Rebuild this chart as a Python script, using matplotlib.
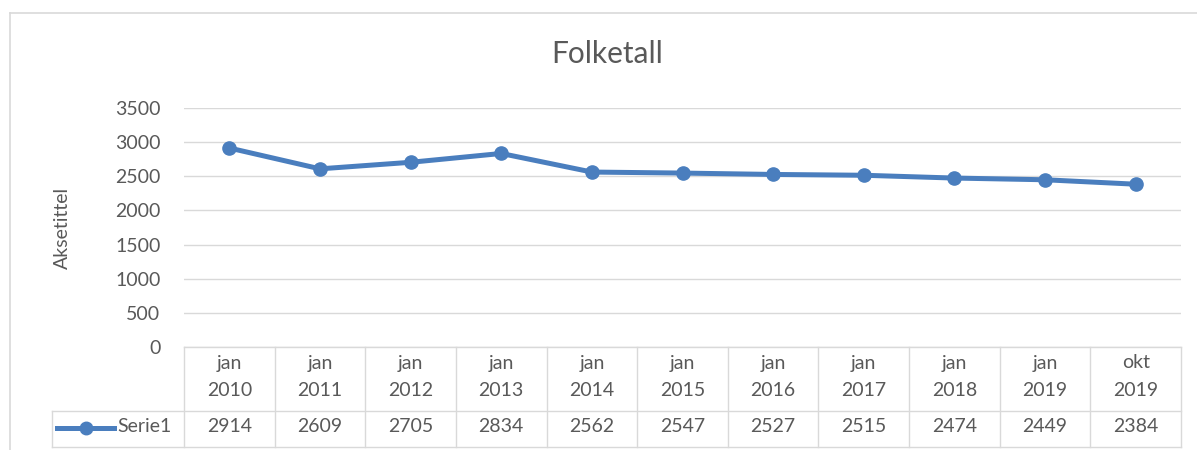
import matplotlib
matplotlib.use("Agg")
import matplotlib.pyplot as plt
from matplotlib.lines import Line2D

# data
months = ["jan", "jan", "jan", "jan", "jan", "jan", "jan", "jan", "jan", "jan", "okt"]
years = ["2010", "2011", "2012", "2013", "2014", "2015", "2016", "2017", "2018", "2019", "2019"]
folketall = [2914, 2609, 2705, 2834, 2562, 2547, 2527, 2515, 2474, 2449, 2384]
y_ticks = [0, 500, 1000, 1500, 2000, 2500, 3000, 3500]
series_name = "Serie1"

W, H = 1197, 450
TEXT = "#595959"
GRID = "#D9D9D9"
BLUE = "#4A7EBE"

plt.rcParams['font.family'] = ['Lato', 'DejaVu Sans']

fig = plt.figure(figsize=(W / 100, H / 100), dpi=100)

# plot area in pixel positions
left, right, top, bottom = 184, 1181, 108, 347
tab_bottom = 447
col_w = (right - left) / len(folketall)

ax = fig.add_axes([left / W, 1 - bottom / H, (right - left) / W, (bottom - top) / H])
x = list(range(len(folketall)))
ax.plot(x, folketall, color=BLUE, lw=3.6, marker="o", ms=9.5, solid_capstyle="round", zorder=3)
ax.set_xlim(-0.5, len(folketall) - 0.5)
ax.set_ylim(0, 3500)
ax.set_yticks(y_ticks)
ax.set_xticks([])
ax.grid(axis="y", color=GRID, lw=1)
ax.set_axisbelow(True)
for s in ax.spines.values():
    s.set_visible(False)
ax.tick_params(axis="y", length=0, pad=17, labelsize=14, labelcolor=TEXT)

# data table below the plot
tab = fig.add_axes([left / W, 1 - tab_bottom / H, (right - left) / W, (tab_bottom - bottom) / H])
tab.set_xlim(-0.5, len(folketall) - 0.5)
tab.set_ylim(tab_bottom - bottom, 0)
tab.axis("off")


def px(xp):
    # figure pixel x -> table data x
    return -0.5 + (xp - left) / col_w


row_div = 411 - bottom
row_end = tab_bottom - bottom
cell_left = px(52)
for i in range(len(folketall) + 1):
    tab.plot([i - 0.5, i - 0.5], [0, row_end], color=GRID, lw=1, clip_on=False)
tab.plot([-0.5, len(folketall) - 0.5], [0, 0], color=GRID, lw=1, clip_on=False)
tab.plot([cell_left, len(folketall) - 0.5], [row_div, row_div], color=GRID, lw=1, clip_on=False)
tab.plot([cell_left, len(folketall) - 0.5], [row_end, row_end], color=GRID, lw=1, clip_on=False)
tab.plot([cell_left, cell_left], [row_div, row_end], color=GRID, lw=1, clip_on=False)

for i, (m, yr, v) in enumerate(zip(months, years, folketall)):
    tab.text(i, 363 - bottom, m, ha="center", va="center", fontsize=14, color=TEXT)
    tab.text(i, 390 - bottom, yr, ha="center", va="center", fontsize=14, color=TEXT)
    tab.text(i, 427 - bottom, str(v), ha="center", va="center", fontsize=14, color=TEXT)

# legend key inside the table
key_y = 428 - bottom
tab.plot([px(57), px(114)], [key_y, key_y], color=BLUE, lw=3.6, clip_on=False)
tab.plot([px(86)], [key_y], color=BLUE, marker="o", ms=9, clip_on=False)
tab.text(px(117), 427 - bottom, series_name, ha="left", va="center", fontsize=14, color=TEXT)

# title and axis title
fig.text(607 / W, 1 - 54 / H, "Folketall", ha="center", va="center", fontsize=21.5, color=TEXT)
fig.text(62 / W, 1 - 228 / H, "Aksetittel", ha="center", va="center", rotation=90,
         fontsize=14, color=TEXT)

# chart frame
fig.add_artist(Line2D([10 / W, 10 / W], [0, 1 - 13 / H], color=GRID, lw=1.2))
fig.add_artist(Line2D([10 / W, 1], [1 - 13 / H, 1 - 13 / H], color=GRID, lw=1.2))

fig.savefig("out.png", dpi=100)
